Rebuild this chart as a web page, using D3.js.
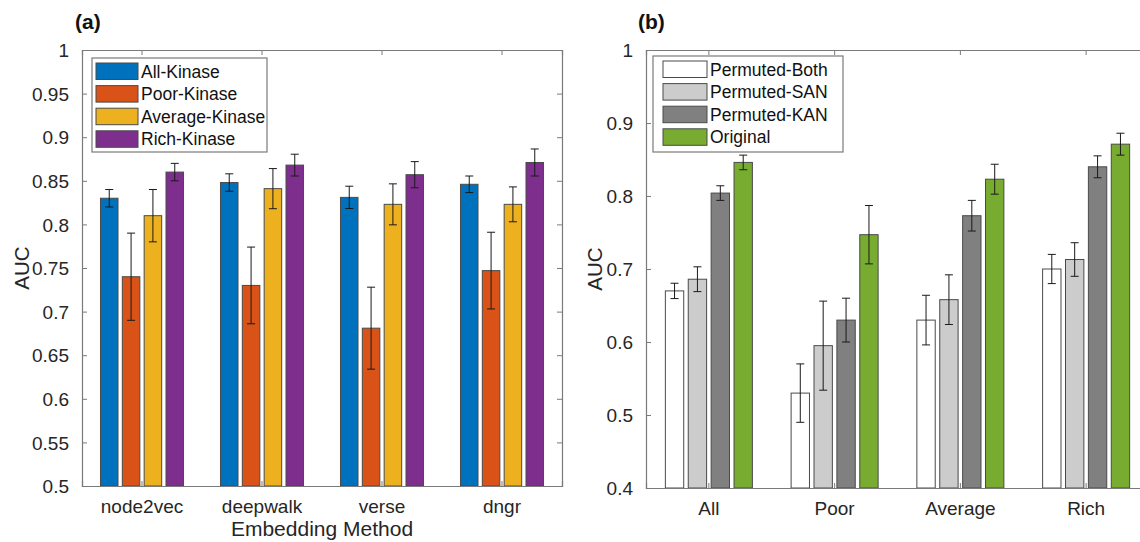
<!DOCTYPE html>
<html>
<head>
<meta charset="utf-8">
<script src="https://cdn.jsdelivr.net/npm/d3@7"></script>
<style>
html,body{margin:0;padding:0;background:#fff;}
svg{display:block;font-family:"Liberation Sans",Arial,Helvetica,sans-serif;}
</style>
</head>
<body>
<svg id="chart" width="1140" height="542"></svg>
<script>
// ---------- Data: panel (a) ----------
const methodsA = ["node2vec", "deepwalk", "verse", "dngr"];
const seriesA = ["All-Kinase", "Poor-Kinase", "Average-Kinase", "Rich-Kinase"];
const colorsA = ["#0072BD", "#D95319", "#EDB120", "#7E2F8E"];
const allKinase = [0.830, 0.848, 0.831, 0.846];
const poorKinase = [0.740, 0.730, 0.681, 0.747];
const averageKinase = [0.810, 0.841, 0.823, 0.823];
const richKinase = [0.860, 0.868, 0.857, 0.871];
const allKinaseErr = [0.010, 0.010, 0.0128, 0.0095];
const poorKinaseErr = [0.050, 0.044, 0.047, 0.044];
const averageKinaseErr = [0.030, 0.023, 0.0235, 0.020];
const richKinaseErr = [0.010, 0.0125, 0.015, 0.0155];
const ticksA = [0.5, 0.55, 0.6, 0.65, 0.7, 0.75, 0.8, 0.85, 0.9, 0.95, 1];
const tickLabelsA = ["0.5", "0.55", "0.6", "0.65", "0.7", "0.75", "0.8", "0.85", "0.9", "0.95", "1"];

// ---------- Data: panel (b) ----------
const groupsB = ["All", "Poor", "Average", "Rich"];
const seriesB = ["Permuted-Both", "Permuted-SAN", "Permuted-KAN", "Original"];
const colorsB = ["#FFFFFF", "#CCCCCC", "#808080", "#77AC30"];
const permutedBoth = [0.670, 0.530, 0.630, 0.700];
const permutedSAN = [0.686, 0.595, 0.658, 0.713];
const permutedKAN = [0.804, 0.630, 0.773, 0.840];
const original = [0.846, 0.747, 0.823, 0.871];
const permutedBothErr = [0.0105, 0.040, 0.034, 0.020];
const permutedSANErr = [0.017, 0.061, 0.034, 0.023];
const permutedKANErr = [0.010, 0.030, 0.021, 0.015];
const originalErr = [0.010, 0.040, 0.0205, 0.015];
const ticksB = [0.4, 0.5, 0.6, 0.7, 0.8, 0.9, 1];
const tickLabelsB = ["0.4", "0.5", "0.6", "0.7", "0.8", "0.9", "1"];

const svg = d3.select("#chart");
const axisColor = "#7a7a7a";
const textColor = "#262626";

function panel(cfg) {
  const g = svg.append("g");
  const x = d3.scaleBand().domain(cfg.cats).range([cfg.left, cfg.right]).padding(0);
  const bw = x.bandwidth();
  const y = d3.scaleLinear().domain(cfg.ydom).range([cfg.bottom, cfg.top]);
  const off = d3.scaleLinear().domain([0, 3]).range([-1.5 * 0.182 * bw, 1.5 * 0.182 * bw]);
  const barW = 0.146 * bw;

  // bars
  cfg.values.forEach((vals, si) => {
    g.append("g").selectAll("rect").data(vals).join("rect")
      .attr("x", (d, i) => x(cfg.cats[i]) + bw / 2 + off(si) - barW / 2)
      .attr("y", d => y(d))
      .attr("width", barW)
      .attr("height", d => y(cfg.ydom[0]) - y(d))
      .attr("fill", cfg.colors[si])
      .attr("stroke", "#4a4a4a")
      .attr("stroke-width", 1);
  });
  // error bars
  cfg.values.forEach((vals, si) => {
    const eg = g.append("g").attr("stroke", "#1a1a1a").attr("stroke-width", 1);
    vals.forEach((v, i) => {
      const cx = x(cfg.cats[i]) + bw / 2 + off(si);
      const e = cfg.errs[si][i];
      eg.append("line").attr("x1", cx).attr("x2", cx).attr("y1", y(v - e)).attr("y2", y(v + e));
      eg.append("line").attr("x1", cx - 4).attr("x2", cx + 4).attr("y1", y(v - e)).attr("y2", y(v - e));
      eg.append("line").attr("x1", cx - 4).attr("x2", cx + 4).attr("y1", y(v + e)).attr("y2", y(v + e));
    });
  });

  // axes (inward ticks)
  const yAxis = d3.axisLeft(y).tickValues(cfg.ticks).tickFormat((d, i) => cfg.tickLabels[i]).tickSize(-5).tickPadding(13);
  const ya = g.append("g").attr("transform", `translate(${cfg.left},0)`).call(yAxis);
  const yR = d3.axisRight(y).tickValues(cfg.ticks).tickFormat("").tickSize(-5);
  const yra = g.append("g").attr("transform", `translate(${cfg.right},0)`).call(yR);
  const xAxis = d3.axisBottom(x).tickSize(-5).tickPadding(14);
  const xa = g.append("g").attr("transform", `translate(0,${cfg.bottom})`).call(xAxis);
  const xT = d3.axisTop(x).tickSize(-5).tickFormat("");
  const xta = g.append("g").attr("transform", `translate(0,${cfg.top})`).call(xT);
  [ya, yra, xa, xta].forEach(a => {
    a.selectAll("path.domain").attr("stroke", axisColor).attr("stroke-width", 1.2);
    a.selectAll(".tick line").attr("stroke", axisColor).attr("stroke-width", 1);
    a.selectAll("text").attr("fill", textColor).attr("font-size", 19)
      .attr("font-family", "Liberation Sans, Arial, sans-serif");
  });
  ya.selectAll("text").attr("dy", "0.35em");
  xa.selectAll("text").attr("dy", "0.71em");

  // y label
  g.append("text")
    .attr("transform", `translate(${cfg.ylabelX},${(cfg.top + cfg.bottom) / 2}) rotate(-90)`)
    .attr("text-anchor", "middle").attr("dy", "0.35em")
    .attr("font-size", 20.5).attr("fill", textColor).text("AUC");
  if (cfg.xlabel) {
    g.append("text").attr("x", (cfg.left + cfg.right) / 2).attr("y", cfg.xlabelY)
      .attr("text-anchor", "middle").attr("font-size", 21).attr("fill", textColor).text(cfg.xlabel);
  }
  // panel tag
  g.append("text").attr("x", cfg.tagX).attr("y", 29).attr("font-size", 21).attr("font-weight", "bold")
    .attr("fill", "#111").text(cfg.tag);

  // legend
  const L = cfg.legend;
  const lg = g.append("g");
  lg.append("rect").attr("x", L.x).attr("y", L.y).attr("width", L.w).attr("height", L.h)
    .attr("fill", "#fff").attr("stroke", axisColor).attr("stroke-width", 1.2);
  cfg.series.forEach((s, i) => {
    const ry = L.y + 5 + i * 22.6;
    lg.append("rect").attr("x", L.x + L.sx).attr("y", ry).attr("width", L.sw).attr("height", 16.5)
      .attr("fill", cfg.colors[i]).attr("stroke", "#4a4a4a").attr("stroke-width", 1);
    lg.append("text").attr("x", L.x + L.sx + L.sw + 3).attr("y", ry + 8.5).attr("dy", "0.35em")
      .attr("font-size", 17.5).attr("fill", "#111").text(s);
  });
}

panel({
  cats: methodsA, series: seriesA, colors: colorsA,
  values: [allKinase, poorKinase, averageKinase, richKinase],
  errs: [allKinaseErr, poorKinaseErr, averageKinaseErr, richKinaseErr],
  ydom: [0.5, 1], ticks: ticksA, tickLabels: tickLabelsA,
  left: 82, right: 562, top: 50, bottom: 486,
  ylabelX: 22, xlabel: "Embedding Method", xlabelY: 536,
  tag: "(a)", tagX: 75,
  legend: { x: 92, y: 58, w: 175, h: 94, sx: 4, sw: 42 }
});

panel({
  cats: groupsB, series: seriesB, colors: colorsB,
  values: [permutedBoth, permutedSAN, permutedKAN, original],
  errs: [permutedBothErr, permutedSANErr, permutedKANErr, originalErr],
  ydom: [0.4, 1], ticks: ticksB, tickLabels: tickLabelsB,
  left: 646, right: 1149, top: 50, bottom: 488,
  ylabelX: 595, xlabel: null,
  tag: "(b)", tagX: 638,
  legend: { x: 653, y: 56, w: 190, h: 96, sx: 10, sw: 44 }
});
</script>
</body>
</html>
